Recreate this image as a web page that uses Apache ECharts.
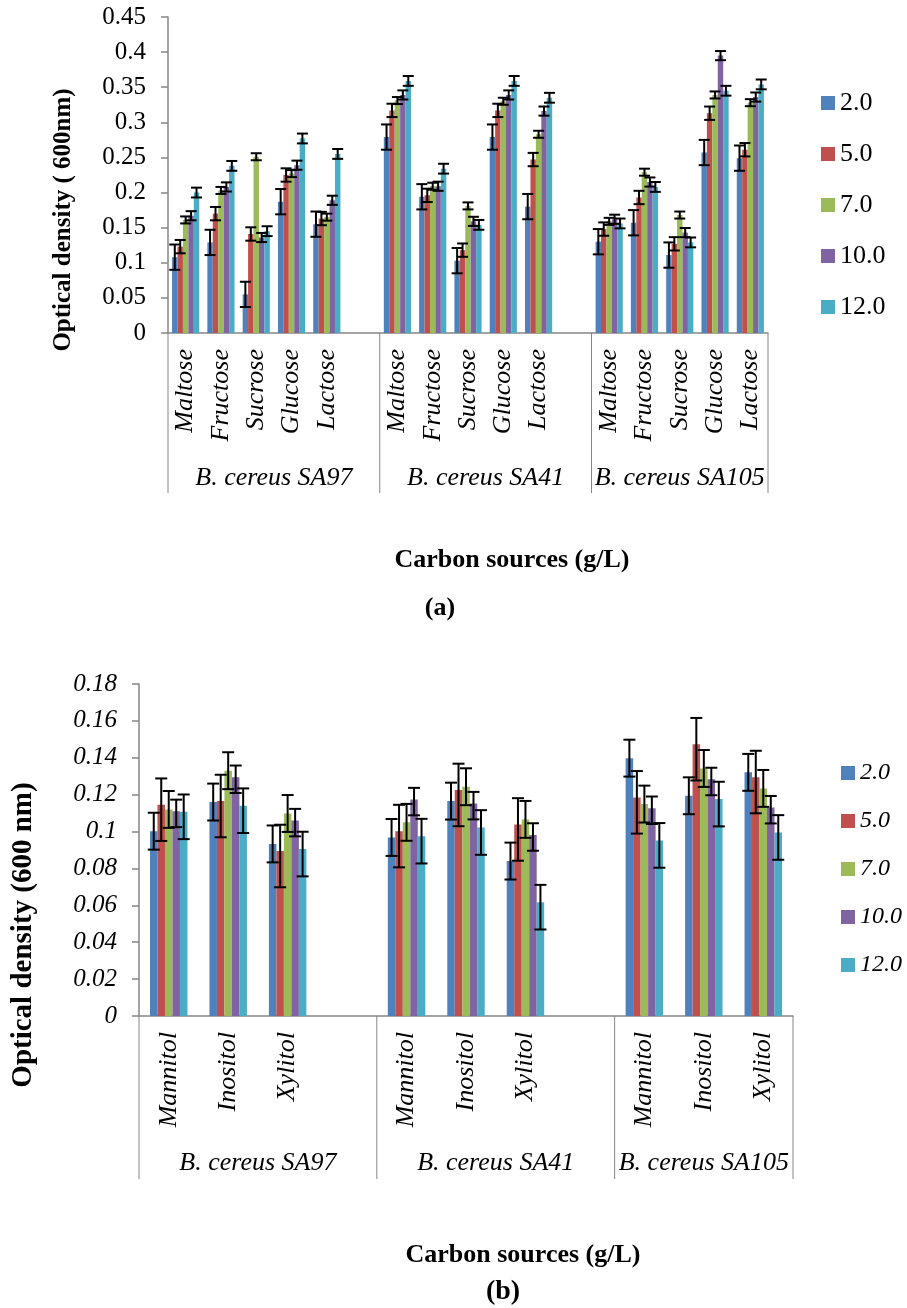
<!DOCTYPE html>
<html>
<head>
<meta charset="utf-8">
<script src="https://cdn.jsdelivr.net/npm/echarts@6/dist/echarts.min.js"></script>
<style>
  html, body { margin: 0; padding: 0; background: #fff; }
  #chart { width: 907px; height: 1308px; }
</style>
</head>
<body>
<div id="chart"></div>
<script>
// --- data -----------------------------------------------------------------
const concLabels = ['2.0', '5.0', '7.0', '10.0', '12.0'];
const colors = ['#4F81BD', '#C0504D', '#9BBB59', '#8064A2', '#4BACC6'];
const strains = ['B. cereus SA97', 'B. cereus SA41', 'B. cereus SA105'];

// (a) sugars
const sugars = ['Maltose', 'Fructose', 'Sucrose', 'Glucose', 'Lactose'];
// each array: SA97 x5, SA41 x5, SA105 x5
const sugar_2 = [0.108, 0.129, 0.055, 0.187, 0.155, 0.279, 0.194, 0.103, 0.279, 0.180, 0.130, 0.157, 0.111, 0.257, 0.249];
const sugar_5 = [0.123, 0.170, 0.141, 0.225, 0.163, 0.317, 0.196, 0.118, 0.317, 0.247, 0.148, 0.193, 0.127, 0.313, 0.261];
const sugar_7 = [0.161, 0.203, 0.251, 0.227, 0.165, 0.331, 0.209, 0.181, 0.330, 0.283, 0.159, 0.229, 0.168, 0.339, 0.328];
const sugar_10 = [0.167, 0.208, 0.136, 0.239, 0.189, 0.339, 0.209, 0.159, 0.339, 0.316, 0.162, 0.215, 0.143, 0.395, 0.336];
const sugar_12 = [0.200, 0.238, 0.145, 0.277, 0.255, 0.359, 0.234, 0.154, 0.359, 0.335, 0.156, 0.208, 0.129, 0.345, 0.354];
const sugarErr = [0.018, 0.0095, 0.005, 0.0065, 0.007];
const sugarTicks = [0, 0.45, 0.05]; // min, max, step

// (b) sugar alcohols
const alcohols = ['Mannitol', 'Inositol', 'Xylitol'];
// each array: SA97 x3, SA41 x3, SA105 x3
const alc_2 = [0.1002, 0.1160, 0.0933, 0.0968, 0.1165, 0.0840, 0.1398, 0.1194, 0.1321];
const alc_5 = [0.1145, 0.1165, 0.0894, 0.1002, 0.1225, 0.1038, 0.1185, 0.1473, 0.1295];
const alc_7 = [0.1120, 0.1330, 0.1098, 0.1050, 0.1243, 0.1066, 0.1149, 0.1342, 0.1234];
const alc_10 = [0.1110, 0.1295, 0.1060, 0.1174, 0.1152, 0.0982, 0.1127, 0.1283, 0.1130];
const alc_12 = [0.1107, 0.1140, 0.0905, 0.0975, 0.1022, 0.0617, 0.0952, 0.1176, 0.0995];
const alcErrUp = [0.010, 0.0143, 0.010, 0.0063, 0.0094];
const alcErrDown = [0.010, 0.0196, 0.010, 0.0086, 0.0148];
const alcTicks = [0, 0.18, 0.02];

const SERIF = "'Liberation Serif', 'Times New Roman', serif";
const AXIS_GRAY = '#868686';

// categories with one empty slot between strain groups
function buildCats(items) {
  const cats = [], idx = [], counts = [];
  strains.forEach((s, g) => {
    const start = cats.length;
    items.forEach(it => { idx.push(cats.length); cats.push(it); });
    if (g < strains.length - 1) cats.push('');
    counts.push([start, cats.length - start]);
  });
  return { cats, idx, counts };
}

const A = buildCats(sugars);
const B = buildCats(alcohols);

function barData(vals, layout) {
  const out = layout.cats.map(() => '-');
  vals.forEach((v, i) => { out[layout.idx[i]] = v; });
  return out;
}

function errSeries(axisIdx, k, vals, up, down, layout, gap, capW) {
  return {
    type: 'custom',
    xAxisIndex: axisIdx, yAxisIndex: axisIdx,
    z: 5, clip: false, silent: true,
    data: vals.map((v, i) => [layout.idx[i], v, up, down]),
    renderItem: (params, api) => {
      const i = api.value(0), v = api.value(1);
      const bandW = api.size([1, 0])[0];
      const clusterW = bandW * (1 - gap);
      const barW = clusterW / 5;
      const c = api.coord([i, v]);
      const x = c[0] - clusterW / 2 + barW * (k + 0.5);
      const yT = api.coord([i, v + api.value(2)])[1];
      const yB = api.coord([i, v - api.value(3)])[1];
      const st = { stroke: '#000', lineWidth: 2 };
      return {
        type: 'group',
        children: [
          { type: 'line', shape: { x1: x, y1: yT, x2: x, y2: yB }, style: st },
          { type: 'line', shape: { x1: x - capW / 2, y1: yT, x2: x + capW / 2, y2: yT }, style: st },
          { type: 'line', shape: { x1: x - capW / 2, y1: yB, x2: x + capW / 2, y2: yB }, style: st }
        ]
      };
    }
  };
}

function groupSeries(axisIdx, layout, lineLen, labelOff) {
  return {
    type: 'custom',
    xAxisIndex: axisIdx, yAxisIndex: axisIdx,
    z: 4, clip: false, silent: true,
    data: layout.counts.map(([s, n]) => [s, 0, n]),
    renderItem: (params, api) => {
      const s = api.value(0), n = api.value(2);
      const bandW = api.size([1, 0])[0];
      const c = api.coord([s, 0]);
      const x0 = c[0] - bandW / 2, x1 = x0 + n * bandW, y0 = c[1];
      const st = { stroke: AXIS_GRAY, lineWidth: 1 };
      const children = [
        { type: 'line', shape: { x1: x0, y1: y0, x2: x0, y2: y0 + lineLen }, style: st },
        {
          type: 'text',
          style: {
            text: strains[params.dataIndex], x: (x0 + x1) / 2, y: y0 + labelOff,
            align: 'center', verticalAlign: 'middle',
            fontFamily: SERIF, fontStyle: 'italic', fontSize: 26, fill: '#000'
          }
        }
      ];
      if (params.dataIndex === layout.counts.length - 1) {
        children.push({ type: 'line', shape: { x1: x1, y1: y0, x2: x1, y2: y0 + lineLen }, style: st });
      }
      return { type: 'group', children };
    }
  };
}

const sugarSets = [sugar_2, sugar_5, sugar_7, sugar_10, sugar_12];
const alcSets = [alc_2, alc_5, alc_7, alc_10, alc_12];
const GAP_A = 0.23, GAP_B = 0.37;

const series = [];
sugarSets.forEach((vals, k) => {
  series.push({
    name: concLabels[k], type: 'bar', xAxisIndex: 0, yAxisIndex: 0,
    data: barData(vals, A), itemStyle: { color: colors[k] },
    barGap: '0%', barCategoryGap: (GAP_A * 100) + '%'
  });
});
alcSets.forEach((vals, k) => {
  series.push({
    name: concLabels[k], type: 'bar', xAxisIndex: 1, yAxisIndex: 1,
    data: barData(vals, B), itemStyle: { color: colors[k] },
    barGap: '0%', barCategoryGap: (GAP_B * 100) + '%'
  });
});
sugarSets.forEach((vals, k) => series.push(errSeries(0, k, vals, sugarErr[k], sugarErr[k], A, GAP_A, 11)));
alcSets.forEach((vals, k) => series.push(errSeries(1, k, vals, alcErrUp[k], alcErrDown[k], B, GAP_B, 12)));
series.push(groupSeries(0, A, 160, 145));
series.push(groupSeries(1, B, 163, 147));

function xAxisOpt(gridIndex, layout) {
  return {
    type: 'category', gridIndex, data: layout.cats,
    axisLine: { lineStyle: { color: AXIS_GRAY, width: 1.5 } },
    axisTick: { show: false },
    axisLabel: {
      interval: 0, rotate: 90, margin: 16, color: '#000',
      fontFamily: SERIF, fontStyle: 'italic', fontSize: 26
    }
  };
}

function yAxisOpt(gridIndex, ticks, italic) {
  return {
    type: 'value', gridIndex, min: ticks[0], max: ticks[1], interval: ticks[2],
    axisLine: { show: true, lineStyle: { color: AXIS_GRAY, width: 1.5 } },
    axisTick: { show: true, length: 7, lineStyle: { color: AXIS_GRAY, width: 1.5 } },
    splitLine: { show: false },
    axisLabel: {
      margin: 22, color: '#000', fontFamily: SERIF, fontSize: 25,
      fontStyle: italic ? 'italic' : 'normal'
    }
  };
}

function legendOpt(left, top, gap, size, italic) {
  return {
    data: concLabels, orient: 'vertical', left, top,
    icon: 'rect', itemWidth: 14, itemHeight: 14, itemGap: gap,
    selectedMode: false,
    textStyle: {
      fontFamily: SERIF, fontSize: size, lineHeight: 26, color: '#000',
      fontStyle: italic ? 'italic' : 'normal', padding: [0, 0, 0, 0]
    }
  };
}

function txt(text, x, y, size, rot) {
  return {
    type: 'text', x, y, rotation: rot || 0,
    style: {
      text, fontFamily: SERIF, fontWeight: 'bold', fontSize: size, fill: '#000',
      align: 'center', verticalAlign: 'middle'
    }
  };
}

const chart = echarts.init(document.getElementById('chart'), null, { renderer: 'canvas' });
chart.setOption({
  animation: false,
  backgroundColor: '#fff',
  grid: [
    { left: 168, right: 139, top: 17, height: 316 },
    { left: 139, right: 114, top: 684, height: 332 }
  ],
  xAxis: [xAxisOpt(0, A), xAxisOpt(1, B)],
  yAxis: [yAxisOpt(0, sugarTicks, false), yAxisOpt(1, alcTicks, true)],
  legend: [legendOpt(816, 85, 25, 26, false), legendOpt(836, 755, 22, 24, true)],
  graphic: [
    txt('Optical density ( 600nm)', 64, 220, 25, Math.PI / 2),
    txt('Carbon sources (g/L)', 512, 560, 26),
    txt('(a)', 440, 608, 26),
    txt('Optical density (600 nm)', 24, 935, 29, Math.PI / 2),
    txt('Carbon sources (g/L)', 523, 1255, 26),
    txt('(b)', 503, 1292, 28)
  ],
  series
});
</script>
</body>
</html>
